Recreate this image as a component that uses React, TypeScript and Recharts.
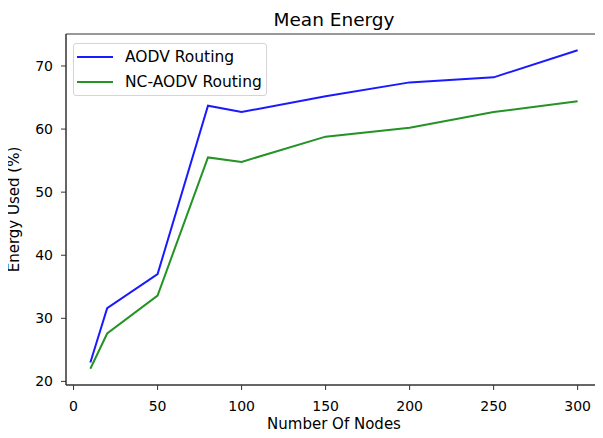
import React from "react";
import { LineChart, Line, XAxis, YAxis, Legend, ReferenceArea } from "recharts";

const nodeCounts = [10, 20, 50, 80, 100, 150, 200, 250, 300];
const aodvEnergy = [23.0, 31.6, 37.0, 63.7, 62.7, 65.2, 67.4, 68.2, 72.5];
const ncAodvEnergy = [22.0, 27.6, 33.6, 55.5, 54.8, 58.8, 60.2, 62.7, 64.4];
const xTicks = [0, 50, 100, 150, 200, 250, 300];
const yTicks = [20, 30, 40, 50, 60, 70];
const seriesNames = ["AODV Routing", "NC-AODV Routing"];
const seriesColors = ["#1a1aff", "#239323"];

const data = nodeCounts.map((n, i) => ({ n, aodv: aodvEnergy[i], nc: ncAodvEnergy[i] }));

const FONT = "'DejaVu Sans', sans-serif";
const X_DOMAIN: [number, number] = [-4.5, 314.5];
const Y_DOMAIN: [number, number] = [19.43, 75.07];

const LegendBox = () => (
  <div
    style={{
      width: 194,
      height: 53,
      border: "1px solid #d4d4d4",
      borderRadius: 3,
      background: "rgba(255,255,255,0.8)",
      boxSizing: "border-box",
      fontFamily: FONT,
      fontSize: 15.5,
      color: "#000",
      position: "relative",
    }}
  >
    {seriesNames.map((name, i) => (
      <div key={name} style={{ position: "absolute", left: 0, top: 13 + i * 24.7 - 10, height: 20, display: "flex", alignItems: "center" }}>
        <div style={{ width: 36, height: 2, background: seriesColors[i], marginLeft: 3 }} />
        <span style={{ marginLeft: 12, whiteSpace: "nowrap" }}>{name}</span>
      </div>
    ))}
  </div>
);

export default function App() {
  return (
    <div style={{ margin: -8, position: "relative", width: 603, height: 438 }}>
      <LineChart width={603} height={438} data={data} margin={{ top: 34, right: 1, bottom: 0, left: 0 }}>
        <ReferenceArea
          x1={X_DOMAIN[0]}
          x2={X_DOMAIN[1]}
          y1={Y_DOMAIN[0]}
          y2={Y_DOMAIN[1]}
          fill="none"
          stroke="#333"
          strokeWidth={1}
          ifOverflow="visible"
        />
        <XAxis
          dataKey="n"
          type="number"
          domain={X_DOMAIN}
          allowDataOverflow
          ticks={xTicks}
          height={53}
          tickSize={5}
          tickMargin={11}
          stroke="#333"
          tick={{ fill: "#000", fontSize: 14, fontFamily: FONT }}
          label={{ value: "Number Of Nodes", position: "insideBottom", offset: 9, fill: "#000", fontSize: 15, fontFamily: FONT }}
        />
        <YAxis
          type="number"
          domain={Y_DOMAIN}
          allowDataOverflow
          ticks={yTicks}
          width={66}
          tickSize={5}
          tickMargin={8}
          stroke="#333"
          tick={{ fill: "#000", fontSize: 14, fontFamily: FONT }}
          label={{ value: "Energy Used (%)", angle: -90, position: "insideLeft", offset: 14, fill: "#000", fontSize: 15, fontFamily: FONT, style: { textAnchor: "middle" } }}
        />
        <Legend
          layout="horizontal"
          verticalAlign="middle"
          align="center"
          content={() => <LegendBox />}
          wrapperStyle={{ position: "absolute", left: 73, top: 43, width: 194, height: 53 }}
        />
        <Line type="linear" dataKey="aodv" name={seriesNames[0]} stroke={seriesColors[0]} strokeWidth={2} dot={false} isAnimationActive={false} />
        <Line type="linear" dataKey="nc" name={seriesNames[1]} stroke={seriesColors[1]} strokeWidth={2} dot={false} isAnimationActive={false} />
      </LineChart>
      <svg width={603} height={34} style={{ position: "absolute", left: 0, top: 0, pointerEvents: "none" }}>
        <text x={334} y={26} textAnchor="middle" fontFamily={FONT} fontSize={18.5} fill="#000">
          Mean Energy
        </text>
      </svg>
    </div>
  );
}
